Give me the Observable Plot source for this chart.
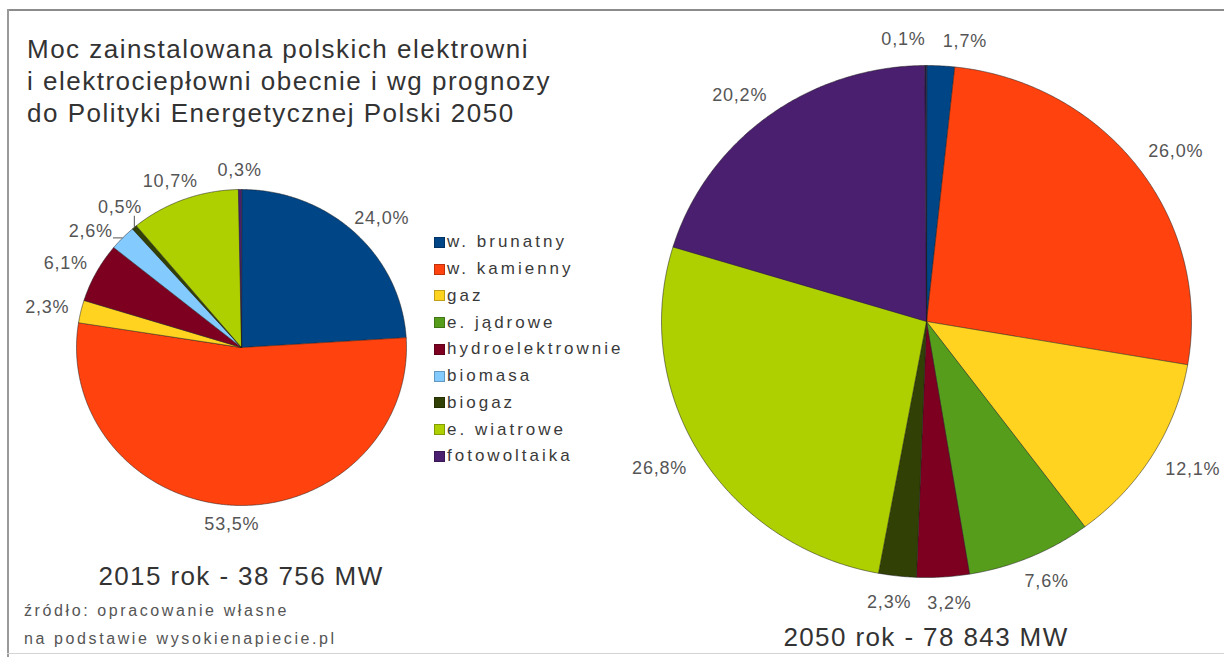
<!DOCTYPE html>
<html>
<head>
<meta charset="utf-8">
<script src="https://cdn.jsdelivr.net/npm/d3@7"></script>
<script src="https://cdn.jsdelivr.net/npm/@observablehq/plot@0.6"></script>
<style>
  html, body { margin: 0; padding: 0; background: #fff; }
  #frame { position: relative; width: 1224px; height: 657px; overflow: hidden; background: #fff;
           font-family: "Liberation Sans", Arial, sans-serif; }
  #frame > svg { position: absolute; left: 0; top: 0; }
  .abs { position: absolute; white-space: nowrap; }
</style>
</head>
<body>
<div id="frame"></div>
<script>
// ---------------- data ----------------
const titleLines = [
  "Moc zainstalowana polskich elektrowni",
  "i elektrociepłowni obecnie i wg prognozy",
  "do Polityki Energetycznej Polski 2050"
];
const categories = ["w. brunatny", "w. kamienny", "gaz", "e. jądrowe", "hydroelektrownie",
                    "biomasa", "biogaz", "e. wiatrowe", "fotowoltaika"];
const colors = ["#004586", "#ff420e", "#ffd320", "#579d1c", "#7e0021",
                "#83caff", "#314004", "#aecf00", "#4b1f6f"];
const share2015 = [24.0, 53.5, 2.3, 0, 6.1, 2.6, 0.5, 10.7, 0.3];
const share2050 = [1.7, 26.0, 12.1, 7.6, 3.2, 0, 2.3, 26.8, 20.2];
// 2050 has one more, unlabelled 0,1% slice (no legend entry in the original)
const extraCategory2050 = "pozostałe";
const extraColor2050 = "#241a46";
const extraShare2050 = 0.1;
const captions = ["2015 rok - 38 756 MW", "2050 rok - 78 843 MW"];
const sourceLines = ["źródło: opracowanie własne", "na podstawie wysokienapiecie.pl"];

// ---------------- layout ----------------
const W = 1224, H = 657;
const FONT = '"Liberation Sans", Arial, sans-serif';
const pieLayouts = [
  {cx: 241, cy: 347, rx: 165, ry: 158, leaders: true},
  {cx: 926, cy: 321, rx: 265, ry: 256, leaders: false}
];
const LABEL_SIZE = 18, LABEL_LS = 0.8, LABEL_GAP_RATIO = 0.075;
const PAD_X = 16, PAD_Y = 10;

const frame = document.getElementById("frame");
function addBox(text, css) {
  const d = document.createElement("div");
  d.className = "abs";
  d.textContent = text;
  Object.assign(d.style, css);
  frame.appendChild(d);
  return d;
}

const ctx = document.createElement("canvas").getContext("2d");
function textWidth(s) {
  ctx.font = `${LABEL_SIZE}px ${FONT}`;
  return ctx.measureText(s).width + LABEL_LS * s.length;
}
const fmt = v => v.toFixed(1).replace(".", ",") + "%";

const pieRows = [
  categories.map((c, i) => ({cat: c, color: colors[i], v: share2015[i]})),
  [...categories.map((c, i) => ({cat: c, color: colors[i], v: share2050[i]})),
   {cat: extraCategory2050, color: extraColor2050, v: extraShare2050}]
];

const polys = [], labels = [], leaders = [];
pieRows.forEach((rows, p) => {
  const L = pieLayouts[p];
  const gap = L.rx * LABEL_GAP_RATIO;
  const pt = a => [L.cx + L.rx * Math.sin(a), L.cy - L.ry * Math.cos(a)];
  const arcs = d3.pie().sort(null).value(d => d.v)(rows).filter(a => a.data.v > 0);
  arcs.forEach((a, i) => {
    const id = `${p}-${i}`;
    const n = Math.max(2, Math.ceil((a.endAngle - a.startAngle) / (Math.PI / 360)));
    polys.push({id, x: L.cx, y: L.cy, color: a.data.color});
    for (let k = 0; k <= n; k++) {
      const t = a.startAngle + (a.endAngle - a.startAngle) * k / n;
      const [x, y] = pt(t);
      polys.push({id, x, y, color: a.data.color});
    }
  });
  const labs = arcs.map(a => {
    const text = fmt(a.data.v);
    const mid = (a.startAngle + a.endAngle) / 2;
    return {text, mid, ang: mid, w: textWidth(text), h: LABEL_SIZE * 0.75};
  });
  const place = l => {
    const s = Math.sin(l.ang), c = Math.cos(l.ang);
    const [ex, ey] = pt(l.ang);
    return {x: ex + s * (gap + l.w / 2), y: ey - c * (gap + l.h / 2)};
  };
  const overlap = (A, B) => {
    const a = place(A), b = place(B);
    return Math.abs(a.x - b.x) < (A.w + B.w) / 2 + PAD_X && Math.abs(a.y - b.y) < (A.h + B.h) / 2 + PAD_Y;
  };
  for (let it = 0; it < 2000; it++) {
    let moved = false;
    for (let i = 0; i < labs.length; i++) {
      const j = (i + 1) % labs.length;
      if (j === i) continue;
      if (overlap(labs[i], labs[j])) { labs[i].ang -= 0.004; labs[j].ang += 0.004; moved = true; }
    }
    if (!moved) break;
  }
  labs.forEach(l => {
    const q = place(l);
    labels.push({x: q.x, y: q.y, text: l.text});
    if (L.leaders && Math.abs(l.ang - l.mid) > 0.005) {
      const [ex, ey] = pt(l.mid);
      const nx = Math.max(q.x - l.w / 2, Math.min(q.x + l.w / 2, ex));
      const ny = Math.max(q.y - l.h / 2 - 2, Math.min(q.y + l.h / 2 + 2, ey));
      leaders.push({x1: ex, y1: ey, x2: nx, y2: ny});
    }
  });
});

const chart = Plot.plot({
  width: W, height: H, margin: 0,
  x: {domain: [0, W], range: [0, W], axis: null},
  y: {domain: [0, H], range: [0, H], axis: null},
  color: {type: "identity"},
  style: {background: "transparent", fontFamily: FONT, letterSpacing: LABEL_LS + "px", overflow: "visible"},
  marks: [
    Plot.line(polys, {x: "x", y: "y", z: "id", fill: "color", stroke: "#1a1a1a", strokeOpacity: 0.5,
                      strokeWidth: 1, strokeLinejoin: "round", curve: "linear-closed"}),
    Plot.link(leaders, {x1: "x1", y1: "y1", x2: "x2", y2: "y2", stroke: "#555", strokeWidth: 1}),
    Plot.text(labels, {x: "x", y: "y", text: "text", fontSize: LABEL_SIZE, fill: "#555",
                       textAnchor: "middle", lineAnchor: "middle"})
  ]
});
frame.appendChild(chart);

// frame lines of the original screenshot
const lineTop = document.createElement("div");
Object.assign(lineTop.style, {position: "absolute", left: "7px", top: "9px", width: (W - 7) + "px", height: "2px", background: "#8c8c8c"});
frame.appendChild(lineTop);
const lineLeft = document.createElement("div");
Object.assign(lineLeft.style, {position: "absolute", left: "7px", top: "9px", width: "2px", height: (H - 9) + "px", background: "#9a9a9a"});
frame.appendChild(lineLeft);
const lineBottom = document.createElement("div");
Object.assign(lineBottom.style, {position: "absolute", left: "7px", top: "653px", width: (W - 7) + "px", height: "1px", background: "#d4d4d4"});
frame.appendChild(lineBottom);

// title
const t = document.createElement("div");
t.className = "abs";
Object.assign(t.style, {left: "27px", top: "33px", fontSize: "26px", lineHeight: "32px", color: "#333", letterSpacing: "1.5px"});
titleLines.forEach(s => { const d = document.createElement("div"); d.textContent = s; t.appendChild(d); });
frame.appendChild(t);

// legend
const lg = document.createElement("div");
lg.className = "abs";
Object.assign(lg.style, {left: "434px", top: "229px"});
categories.forEach((c, i) => {
  const row = document.createElement("div");
  Object.assign(row.style, {display: "flex", alignItems: "center", height: "26.75px"});
  const sw = document.createElement("span");
  Object.assign(sw.style, {display: "inline-block", width: "11px", height: "11px", background: colors[i],
                           boxSizing: "border-box", border: "1px solid rgba(0,0,0,0.25)", marginRight: "2px"});
  const tx = document.createElement("span");
  tx.textContent = c;
  Object.assign(tx.style, {fontSize: "17px", letterSpacing: "3px", color: "#3a3a3a"});
  row.appendChild(sw); row.appendChild(tx);
  lg.appendChild(row);
});
frame.appendChild(lg);

// captions under the pies
addBox(captions[0], {left: (pieLayouts[0].cx - 200) + "px", width: "400px", textAlign: "center", top: "561px",
                     fontSize: "26px", lineHeight: "30px", color: "#333", letterSpacing: "1.4px"});
addBox(captions[1], {left: (pieLayouts[1].cx - 200) + "px", width: "400px", textAlign: "center", top: "622px",
                     fontSize: "26px", lineHeight: "30px", color: "#333", letterSpacing: "1.4px"});

// source
const src = document.createElement("div");
src.className = "abs";
Object.assign(src.style, {left: "24px", top: "597px", fontSize: "16px", lineHeight: "28px", color: "#555", letterSpacing: "2.6px"});
sourceLines.forEach(s => { const d = document.createElement("div"); d.textContent = s; src.appendChild(d); });
frame.appendChild(src);
</script>
</body>
</html>
